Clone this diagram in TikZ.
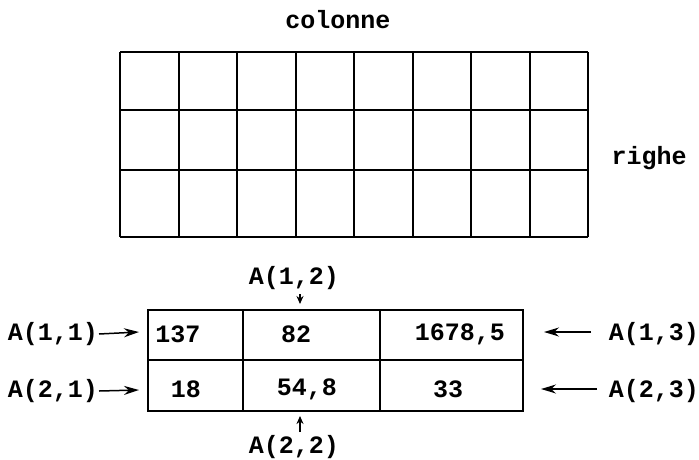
\documentclass[tikz,border=0pt]{standalone}
\usepackage{fontspec}
\setmonofont{Liberation Mono}
\usetikzlibrary{arrows.meta}

\tikzset{
  lbl/.style={font=\ttfamily\bfseries\fontsize{25}{25}\selectfont, inner sep=0pt},
  ptr/.style={-{Stealth[length=15pt,width=9pt]}, line width=1.5pt},
  tinyptr/.style={-{Stealth[length=8pt,width=7pt]}, line width=1.5pt},
}

\begin{document}
\begin{tikzpicture}[x=1pt, y=-1pt, line width=2pt]
  \useasboundingbox (0,0) rectangle (699,459);

  % Top grid: 8 columns, 3 rows
  \foreach \i in {0,...,8} {
    \draw (120+\i*58.5, 52) -- (120+\i*58.5, 237);
  }
  \foreach \y in {52, 110, 170, 237} {
    \draw (120, \y) -- (588, \y);
  }
  \node[lbl] (colonne) at (338, 20) {colonne};
  \node[lbl] (righe) at (649, 158) {righe};

  % Bottom table, 2 rows by 3 columns
  \draw (148,310) rectangle (523,411);
  \draw (148,360) -- (523,360);
  \draw (243,310) -- (243,411);
  \draw (380,310) -- (380,411);

  % Cell values
  \node[lbl] (v11) at (178,334) {137};
  \node[lbl] (v12) at (296,334) {82};
  \node[lbl] (v13) at (460,334) {1678,5};
  \node[lbl] (v21) at (186,389) {18};
  \node[lbl] (v22) at (307,389) {54,8};
  \node[lbl] (v23) at (448,389) {33};

  % Element names
  \node[lbl] (a11) at (53,334) {A(1,1)};
  \node[lbl] (a21) at (53,391) {A(2,1)};
  \node[lbl] (a12) at (294,278) {A(1,2)};
  \node[lbl] (a22) at (294,447) {A(2,2)};
  \node[lbl] (a13) at (654,334) {A(1,3)};
  \node[lbl] (a23) at (654,391) {A(2,3)};

  % Free ends of the pointers
  \coordinate (p11) at (139,332);
  \coordinate (p21) at (139,390);
  \coordinate (p12) at (300,304);
  \coordinate (p22) at (300,416);
  \coordinate (p13) at (544,332);
  \coordinate (p23) at (541,389);

  % Pointers
  \draw[ptr] (a11.east) -- (p11);
  \draw[ptr] (a21.east) -- (p21);
  \draw[tinyptr] (300,294) -- (p12);
  \draw[tinyptr] (300,432) -- (p22);
  \draw[ptr] (591,332) -- (p13);
  \draw[ptr] (597,389) -- (p23);
\end{tikzpicture}
\end{document}
